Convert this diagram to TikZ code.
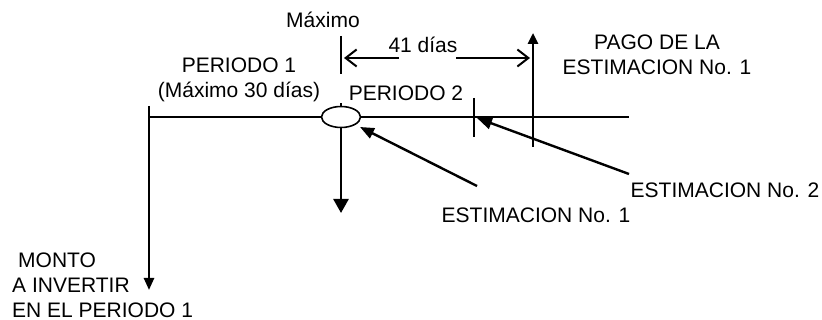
\documentclass[tikz,border=0pt]{standalone}
\usepackage{fontspec}
\setmainfont{Liberation Sans}
\usetikzlibrary{arrows.meta,shapes.geometric}

\tikzset{
	eje/.style={line width=2.6pt},
	marca/.style={line width=1.4pt},
	rotulo/.style={font=\fontsize{21}{25}\selectfont,inner sep=0pt,align=center},
	flecha/.style={line width=2.4pt,-{Triangle[length=12pt,width=10pt]}},
	cota/.style={line width=2pt,-{Straight Barb[length=11pt,width=17pt]}}
}

\begin{document}
\begin{tikzpicture}[x=1pt,y=-1pt]
	\useasboundingbox (0,0) rectangle (822,320);
	% linea de tiempo
	\coordinate (inicio) at (149,117);
	\coordinate (fin) at (629,117);
	\draw[eje] (inicio) -- (fin);
	\draw[marca] (341,103) -- (341,108);
	\node[ellipse,draw,line width=1.6pt,fill=white,minimum width=39pt,minimum height=21pt,inner sep=0pt] (corte) at (341,117) {};
	% monto a invertir
	\coordinate (arranque) at (149,106);
	\coordinate (monto) at (149,290);
	\draw[flecha] (arranque) -- (monto);
	\node[rotulo,align=left,anchor=west] (invertir) at (12,285) {\hspace{6pt}MONTO\\A INVERTIR\\EN EL PERIODO 1};
	% salida al corte
	\coordinate (salida) at (341,213);
	\draw[eje,-{Triangle[length=14pt,width=15pt]}] (corte.south) -- (salida);
	% maximo
	\node[rotulo] (maximo) at (323,20) {Máximo};
	\coordinate (maxarriba) at (341,36);
	\coordinate (maxabajo) at (341,74);
	\draw[marca] (maxarriba) -- (maxabajo);
	% 41 dias
	\node[rotulo] (dias) at (423,45) {41 días};
	\coordinate (izq) at (344,58);
	\coordinate (der) at (530,58);
	\draw[cota] (399,58) -- (izq);
	\draw[cota] (456,58) -- (der);
	% pago
	\coordinate (pagobajo) at (533,147);
	\coordinate (pagoarriba) at (533,33);
	\draw[eje,-{Triangle[length=11pt,width=10pt]}] (pagobajo) -- (pagoarriba);
	\node[rotulo] (pago) at (657,55) {PAGO DE LA\\ESTIMACION No. 1};
	% estimacion 2
	\coordinate (est2arriba) at (474,98);
	\coordinate (est2abajo) at (474,137);
	\draw[marca] (est2arriba) -- (est2abajo);
	% periodos
	\node[rotulo] (periodo1) at (239,80) {PERIODO 1\\(Máximo 30 días)};
	\node[rotulo] (periodo2) at (406,93) {PERIODO 2};
	% estimaciones
	\node[rotulo] (estim2) at (725,190) {ESTIMACION No. 2};
	\node[rotulo] (estim1) at (536,215) {ESTIMACION No. 1};
	\coordinate (cola2) at (629,174);
	\coordinate (punta2) at (477,118);
	\draw[flecha,-{Triangle[length=15pt,width=12pt]}] (cola2) -- (punta2);
	\coordinate (cola1) at (477,186);
	\coordinate (punta1) at (360,127);
	\draw[flecha,-{Triangle[length=14pt,width=11pt]}] (cola1) -- (punta1);
\end{tikzpicture}
\end{document}
